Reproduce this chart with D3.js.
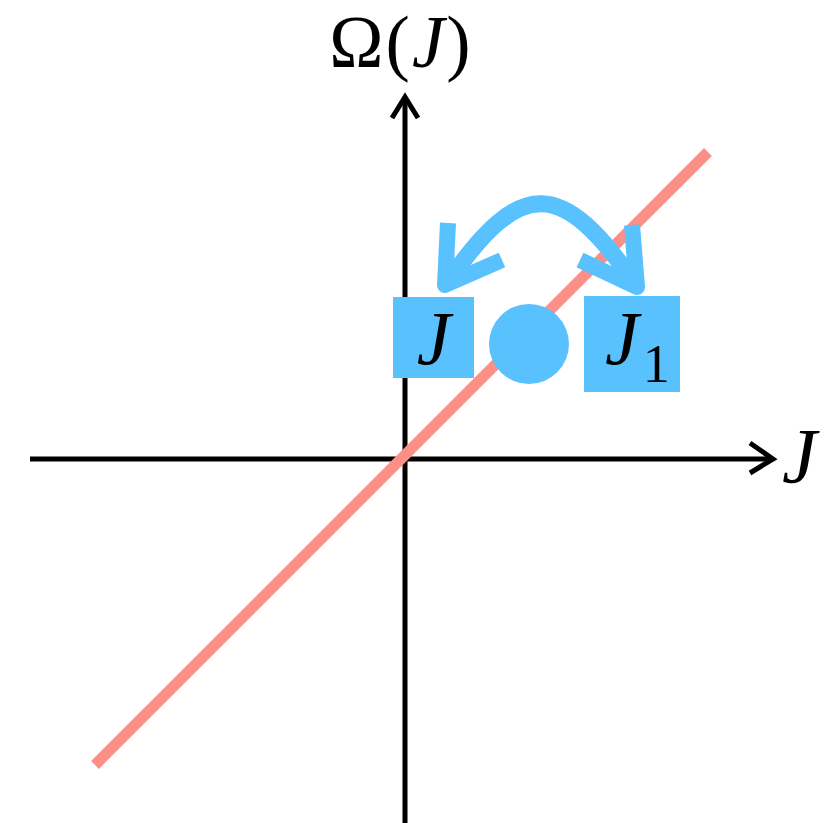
<!DOCTYPE html>
<html>
<head>
<meta charset="utf-8">
<script src="https://cdn.jsdelivr.net/npm/d3@7"></script>
<style>
  body { margin: 0; background: #fff; }
  text { font-family: "Liberation Serif", "DejaVu Serif", serif; }
</style>
</head>
<body>
<div class="chart"></div>
<script>
	// data (units: 1 = 100px)
	var xAxisRange = [-3.75, 3.68],
		yAxisRange = [-3.64, 3.62];
	var diagLine = [[-3.10, -3.06], [3.03, 3.07]];
	var stateBoxes = [
		{ name: "J", sub: "", x0: -0.12, x1: 0.69, y0: 0.81, y1: 1.62 },
		{ name: "J", sub: "1", x0: 1.79, x1: 2.75, y0: 0.67, y1: 1.63 }
	];
	var dot = { cx: 1.24, cy: 1.15, r: 0.40 };
	var swapArc = [[0.42, 1.76], [1.16, 2.83], [1.57, 2.81], [2.31, 1.74]];
	var arrowHeads = [
		[[0.43, 2.36], [0.40, 1.74], [0.97, 1.99]],
		[[2.27, 2.34], [2.32, 1.72], [1.75, 1.99]]
	];

	var width = 840, height = 823;
	var blue = "#58C1FE", red = "#FA9088";

	var svg = d3.select(".chart")
		.append("svg")
			.attr("width", width)
			.attr("height", height);

	var x = d3.scaleLinear().domain([-4.05, 4.35]).range([0, width]);
	var y = d3.scaleLinear().domain([-3.64, 4.59]).range([height, 0]);

	// axes
	svg.append("line")
		.attr("x1", x(xAxisRange[0])).attr("x2", x(xAxisRange[1]) - 2)
		.attr("y1", y(0)).attr("y2", y(0))
		.attr("stroke", "#000").attr("stroke-width", 5);
	svg.append("line")
		.attr("x1", x(0)).attr("x2", x(0))
		.attr("y1", y(yAxisRange[0])).attr("y2", y(yAxisRange[1]) + 2)
		.attr("stroke", "#000").attr("stroke-width", 5);

	var line = d3.line()
		.x(function(d){ return x(d[0]); })
		.y(function(d){ return y(d[1]); });

	// axis arrow heads
	svg.append("path")
		.attr("d", line([[xAxisRange[1] - 0.23, 0.16], [xAxisRange[1], 0], [xAxisRange[1] - 0.23, -0.14]]))
		.attr("fill", "none").attr("stroke", "#000").attr("stroke-width", 5);
	svg.append("path")
		.attr("d", line([[-0.13, yAxisRange[1] - 0.21], [0, yAxisRange[1]], [0.13, yAxisRange[1] - 0.21]]))
		.attr("fill", "none").attr("stroke", "#000").attr("stroke-width", 5);

	// diagonal line
	svg.append("path")
		.attr("d", line(diagLine))
		.attr("fill", "none")
		.attr("stroke", red)
		.attr("stroke-width", 11);

	// swap arc
	svg.append("path")
		.attr("d", "M" + x(swapArc[0][0]) + "," + y(swapArc[0][1]) +
			"C" + swapArc.slice(1).map(function(d){ return x(d[0]) + "," + y(d[1]); }).join(" "))
		.attr("fill", "none")
		.attr("stroke", blue)
		.attr("stroke-width", 17);

	svg.selectAll(".ahead")
		.data(arrowHeads)
		.enter()
		.append("path")
			.attr("class", "ahead")
			.attr("d", line)
			.attr("fill", "none")
			.attr("stroke", blue)
			.attr("stroke-width", 16)
			.attr("stroke-linejoin", "round");

	// boxes
	svg.selectAll(".sbox")
		.data(stateBoxes)
		.enter()
		.append("rect")
			.attr("class", "sbox")
			.attr("x", function(d){ return x(d.x0); })
			.attr("y", function(d){ return y(d.y1); })
			.attr("width", function(d){ return x(d.x1) - x(d.x0); })
			.attr("height", function(d){ return y(d.y0) - y(d.y1); })
			.attr("fill", blue);

	svg.append("circle")
		.attr("cx", x(dot.cx))
		.attr("cy", y(dot.cy))
		.attr("r", x(dot.r) - x(0))
		.attr("fill", blue);

	// box labels
	svg.append("text")
		.attr("x", x(0.285)).attr("y", y(0.95))
		.attr("text-anchor", "middle")
		.attr("font-size", "76px")
		.attr("font-style", "italic")
		.text("J");

	var j1 = svg.append("text")
		.attr("x", x(2.0)).attr("y", y(0.95))
		.attr("font-size", "76px");
	j1.append("tspan").attr("font-style", "italic").text("J");
	j1.append("tspan").attr("dy", 18).attr("dx", 4).attr("font-size", "54px").text("1");

	// axis labels
	var yl = svg.append("text")
		.attr("x", x(-0.04)).attr("y", 67)
		.attr("text-anchor", "middle")
		.attr("font-size", "73px")
		.attr("letter-spacing", "2px");
	yl.append("tspan").text("Ω(");
	yl.append("tspan").attr("font-style", "italic").text("J");
	yl.append("tspan").text(")");

	svg.append("text")
		.attr("x", 782).attr("y", y(-0.23))
		.attr("font-size", "78px")
		.attr("font-style", "italic")
		.text("J");
</script>
</body>
</html>
